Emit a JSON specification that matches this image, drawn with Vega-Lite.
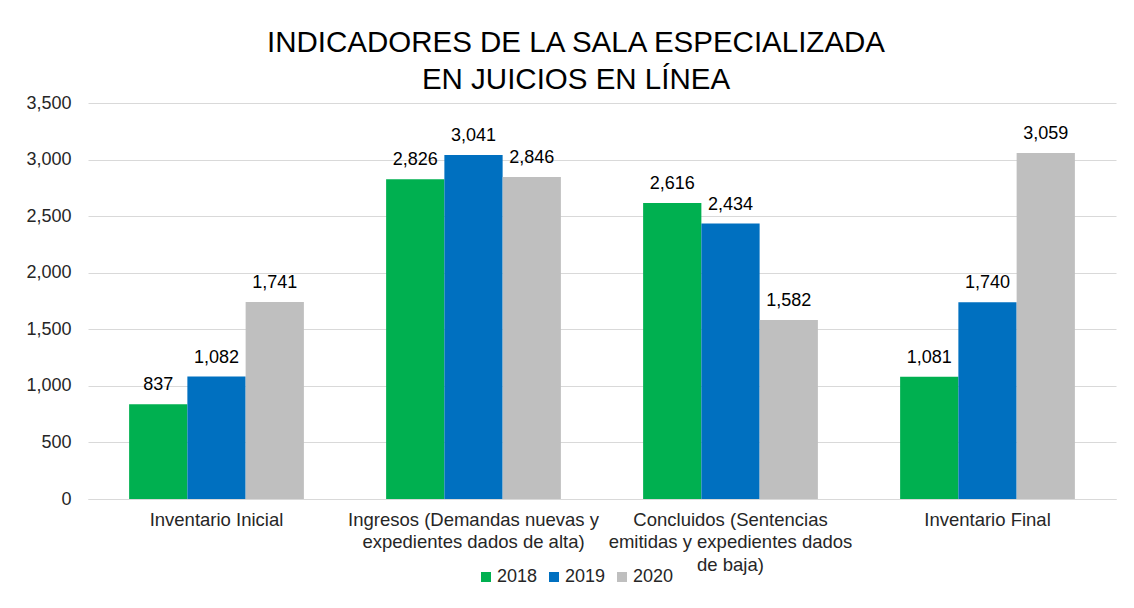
{
  "$schema": "https://vega.github.io/schema/vega-lite/v6.json",
  "width": 1028,
  "height": 396,
  "autosize": {"type": "none"},
  "padding": {"left": 88, "top": 103, "right": 18, "bottom": 109},
  "background": "white",
  "title": {
    "text": ["INDICADORES DE LA SALA ESPECIALIZADA", "EN JUICIOS EN LÍNEA"],
    "font": "Liberation Sans",
    "fontSize": 29.5,
    "fontWeight": "normal",
    "color": "#000000",
    "anchor": "middle",
    "dx": -26,
    "lineHeight": 37,
    "offset": -1
  },
  "data": {
    "values": [
      {"cat": "Inventario Inicial", "year": "2018", "value": 837},
      {"cat": "Inventario Inicial", "year": "2019", "value": 1082},
      {"cat": "Inventario Inicial", "year": "2020", "value": 1741},
      {"cat": "Ingresos (Demandas nuevas y|expedientes dados de alta)", "year": "2018", "value": 2826},
      {"cat": "Ingresos (Demandas nuevas y|expedientes dados de alta)", "year": "2019", "value": 3041},
      {"cat": "Ingresos (Demandas nuevas y|expedientes dados de alta)", "year": "2020", "value": 2846},
      {"cat": "Concluidos (Sentencias|emitidas y expedientes dados|de baja)", "year": "2018", "value": 2616},
      {"cat": "Concluidos (Sentencias|emitidas y expedientes dados|de baja)", "year": "2019", "value": 2434},
      {"cat": "Concluidos (Sentencias|emitidas y expedientes dados|de baja)", "year": "2020", "value": 1582},
      {"cat": "Inventario Final", "year": "2018", "value": 1081},
      {"cat": "Inventario Final", "year": "2019", "value": 1740},
      {"cat": "Inventario Final", "year": "2020", "value": 3059}
    ]
  },
  "encoding": {
    "x": {
      "field": "cat",
      "type": "nominal",
      "sort": null,
      "scale": {"paddingInner": 0.32, "paddingOuter": 0.16},
      "axis": {
        "title": null,
        "labelAngle": 0,
        "labelExpr": "split(datum.value, '|')",
        "labelFont": "Liberation Sans",
        "labelFontSize": 18.5,
        "labelColor": "#262626",
        "labelLineHeight": 22.5,
        "labelPadding": 11,
        "ticks": false,
        "domainColor": "#D9D9D9",
        "labelLimit": 400
      }
    },
    "xOffset": {"field": "year", "type": "nominal", "scale": {"paddingInner": 0, "paddingOuter": 0}},
    "y": {
      "field": "value",
      "type": "quantitative",
      "scale": {"domain": [0, 3500]},
      "axis": {
        "title": null,
        "values": [0, 500, 1000, 1500, 2000, 2500, 3000, 3500],
        "labelExpr": "format(datum.value, ',')",
        "labelFont": "Liberation Sans",
        "labelFontSize": 18,
        "labelColor": "#262626",
        "labelPadding": 17,
        "ticks": false,
        "domain": false,
        "gridColor": "#D9D9D9",
        "gridWidth": 1
      }
    }
  },
  "layer": [
    {
      "mark": {"type": "bar"},
      "encoding": {
        "color": {
          "field": "year",
          "type": "nominal",
          "scale": {"domain": ["2018", "2019", "2020"], "range": ["#00B050", "#0070C0", "#BFBFBF"]},
          "legend": {
            "title": null,
            "orient": "none",
            "direction": "horizontal",
            "legendX": 389,
            "legendY": 465,
            "symbolType": "square",
            "symbolSize": 100,
            "symbolStrokeWidth": 0,
            "labelFont": "Liberation Sans",
            "labelFontSize": 18,
            "labelColor": "#262626",
            "labelOffset": 2,
            "columnPadding": 7
          }
        }
      }
    },
    {
      "mark": {"type": "text", "baseline": "alphabetic", "dy": -14, "font": "Liberation Sans", "fontSize": 18, "color": "#000000"},
      "encoding": {
        "text": {"field": "value", "type": "quantitative", "format": ","}
      }
    }
  ],
  "config": {
    "view": {"stroke": null}
  }
}
